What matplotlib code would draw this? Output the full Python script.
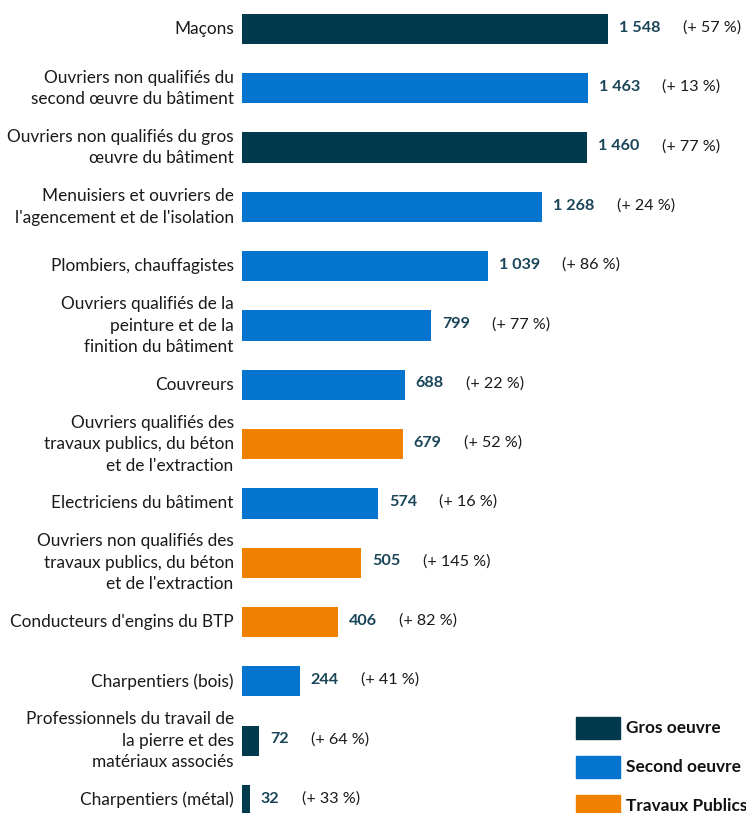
import matplotlib
matplotlib.use("Agg")
import matplotlib.pyplot as plt
from matplotlib.patches import Rectangle

labels = [
    "Maçons",
    "Ouvriers non qualifiés du\nsecond œuvre du bâtiment",
    "Ouvriers non qualifiés du gros\nœuvre du bâtiment",
    "Menuisiers et ouvriers de\nl'agencement et de l'isolation",
    "Plombiers, chauffagistes",
    "Ouvriers qualifiés de la\npeinture et de la\nfinition du bâtiment",
    "Couvreurs",
    "Ouvriers qualifiés des\ntravaux publics, du béton\net de l'extraction",
    "Electriciens du bâtiment",
    "Ouvriers non qualifiés des\ntravaux publics, du béton\net de l'extraction",
    "Conducteurs d'engins du BTP",
    "Charpentiers (bois)",
    "Professionnels du travail de\nla pierre et des\nmatériaux associés",
    "Charpentiers (métal)",
]
values = [1548, 1463, 1460, 1268, 1039, 799, 688, 679, 574, 505, 406, 244, 72, 32]
growth = [57, 13, 77, 24, 86, 77, 22, 52, 16, 145, 82, 41, 64, 33]
sectors = ["Gros oeuvre", "Second oeuvre", "Gros oeuvre", "Second oeuvre", "Second oeuvre",
           "Second oeuvre", "Second oeuvre", "Travaux Publics", "Second oeuvre",
           "Travaux Publics", "Travaux Publics", "Second oeuvre", "Gros oeuvre", "Gros oeuvre"]
legend_names = ["Gros oeuvre", "Second oeuvre", "Travaux Publics"]
colors = {"Gros oeuvre": "#023A4D", "Second oeuvre": "#0474CF", "Travaux Publics": "#F08000"}

plt.rcParams['font.family'] = ['Lato', 'DejaVu Sans']
W, H = 746, 813
fig = plt.figure(figsize=(W / 100, H / 100), dpi=100)
ax = fig.add_axes([242 / W, 0, 1 - 242 / W, 1])

ypos = list(range(len(values)))
ax.barh(ypos, values, height=0.51, color=[colors[s] for s in sectors])
ax.set_xlim(0, 504 / (366 / 1548))
ax.set_ylim(13.22, -0.489)
ax.axis('off')

valcol = "#1A4558"
for y, v, g, lab in zip(ypos, values, growth, labels):
    t = ax.annotate(f"{v:,}".replace(",", " "), xy=(v, y), xytext=(8, 1),
                    textcoords='offset points', va='center', ha='left',
                    fontsize=11.6, fontweight='bold', color=valcol)
    ax.annotate(f"(+ {g} %)", xy=(1, 0.5), xycoords=t, xytext=(16, 0),
                textcoords='offset points', va='center', ha='left',
                fontsize=11.6, color="#1a1a1a")
    ax.annotate(lab, xy=(0, y), xytext=(-6, 0), textcoords='offset points',
                va='center', ha='right', fontsize=12.4, color="#1a1a1a",
                linespacing=1.42, annotation_clip=False)

for i, name in enumerate(legend_names):
    yc = 728 + i * 39
    fig.add_artist(Rectangle((576 / W, 1 - (yc + 11) / H), 44 / W, 22 / H,
                             transform=fig.transFigure, color=colors[name]))
    fig.text(626 / W, 1 - yc / H, name, va='center', ha='left', fontsize=12.4,
             fontweight='bold', color="#111111")

fig.savefig("out.png", dpi=100)
